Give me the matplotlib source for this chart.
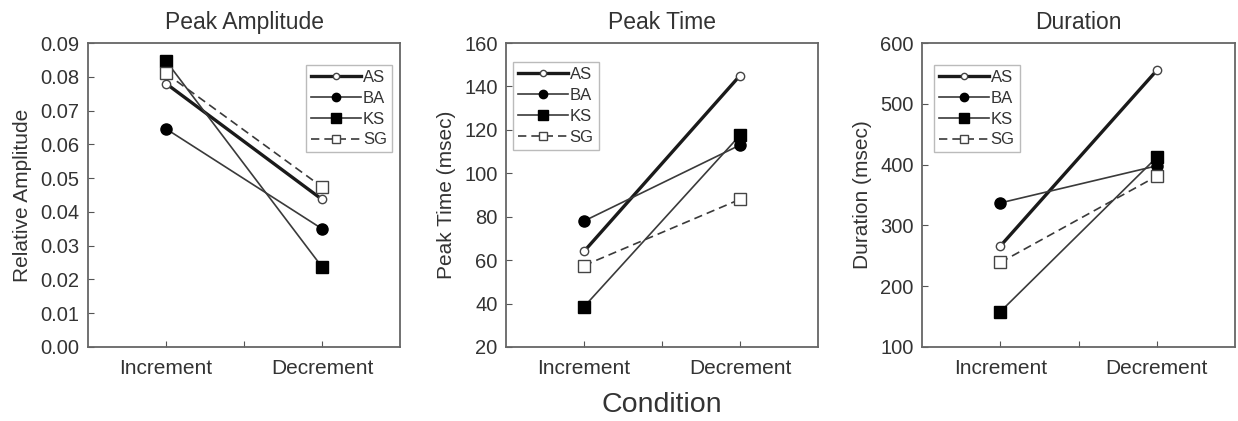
import matplotlib.pyplot as plt

conditions = ["Increment", "Decrement"]
subjects = ["AS", "BA", "KS", "SG"]

# peak amplitude (relative)
amp_AS = [0.078, 0.0437]
amp_BA = [0.0646, 0.035]
amp_KS = [0.0847, 0.0237]
amp_SG = [0.081, 0.0474]

# peak time (msec)
pt_AS = [64, 145]
pt_BA = [78, 113]
pt_KS = [38.5, 117.5]
pt_SG = [57.5, 88]

# duration (msec)
dur_AS = [266, 555]
dur_BA = [337, 398]
dur_KS = [158, 412]
dur_SG = [239, 381]

plt.rcParams['font.family'] = ['Liberation Sans', 'DejaVu Sans']
txt = '#333333'

styles = {
    "AS": dict(color='#1a1a1a', lw=2.4, ls='-', marker='o', ms=6, mfc='white', mec='#444444', mew=1.0),
    "BA": dict(color='#3a3a3a', lw=1.2, ls='-', marker='o', ms=8, mfc='black', mec='black'),
    "KS": dict(color='#3a3a3a', lw=1.2, ls='-', marker='s', ms=9, mfc='black', mec='black'),
    "SG": dict(color='#3a3a3a', lw=1.2, ls=(0, (5, 3)), marker='s', ms=8, mfc='white', mec='#444444', mew=1.0),
}

panels = [
    ("Peak Amplitude", "Relative Amplitude", [amp_AS, amp_BA, amp_KS, amp_SG],
     (0, 0.09), [i / 100 for i in range(10)], "{:.2f}",
     'upper right', (0.974, 0.928), [0.0711, 0.1758, 0.252, 0.722]),
    ("Peak Time", "Peak Time (msec)", [pt_AS, pt_BA, pt_KS, pt_SG],
     (20, 160), list(range(20, 161, 20)), "{:d}",
     'upper left', (0.022, 0.9375), [0.4087, 0.1758, 0.252, 0.722]),
    ("Duration", "Duration (msec)", [dur_AS, dur_BA, dur_KS, dur_SG],
     (100, 600), list(range(100, 601, 100)), "{:d}",
     'upper left', (0.038, 0.928), [0.7448, 0.1758, 0.2528, 0.722]),
]

fig = plt.figure(figsize=(12.38, 4.21), dpi=100)
x = [1, 3]

for title, ylabel, series, ylim, yticks, fmt, loc, anchor, rect in panels:
    ax = fig.add_axes(rect)
    for name, vals in zip(subjects, series):
        ax.plot(x, vals, label=name, **styles[name])
    ax.set_xlim(0, 4)
    ax.set_ylim(*ylim)
    ax.set_xticks([1, 2, 3])
    ax.set_xticklabels([conditions[0], "", conditions[1]])
    ax.set_yticks(yticks)
    ax.set_yticklabels([fmt.format(v) for v in yticks])
    ax.tick_params(direction='in', length=4, width=0.8, colors='#555555',
                   labelcolor=txt, labelsize=14.5)
    ax.tick_params(axis='x', pad=9, labelsize=15)
    ax.tick_params(axis='y', pad=6)
    for sp in ax.spines.values():
        sp.set_color('#666666')
        sp.set_linewidth(1.3)
    ax.set_title(title, fontsize=16.5, color=txt, pad=10)
    ax.set_ylabel(ylabel, fontsize=15, color=txt, labelpad=6)
    leg = ax.legend(loc=loc, bbox_to_anchor=anchor, fontsize=12, handlelength=3.0,
                    handletextpad=0.1, labelspacing=0.35, borderpad=0.3,
                    fancybox=False, borderaxespad=0, markerscale=0.75)
    leg.get_frame().set_edgecolor('#aaaaaa')
    leg.get_frame().set_linewidth(1.0)
    for t in leg.get_texts():
        t.set_color(txt)

fig.text(0.5345, 0.022, "Condition", ha='center', fontsize=20.5, color=txt)

fig.savefig("out.png", dpi=100)
